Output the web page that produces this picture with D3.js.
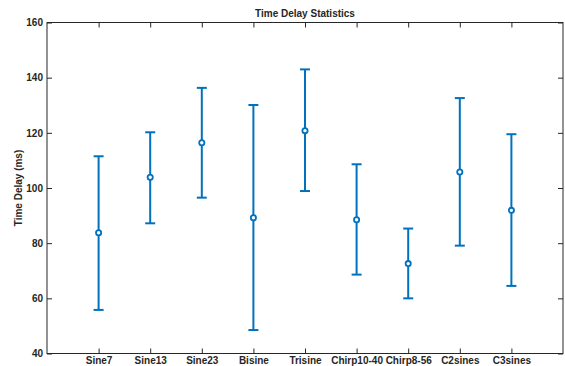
<!DOCTYPE html>
<html>
<head>
<meta charset="utf-8">
<script src="https://cdn.jsdelivr.net/npm/d3@7"></script>
<style>
  body { margin: 0; background: #fff; }
  text { font-family: "Liberation Sans", Arial, sans-serif; font-weight: bold; fill: #262626; }
</style>
</head>
<body>
<svg id="chart" width="565" height="366"></svg>
<script>
// Signal names and their delay stats (ms)
const signals = ["Sine7", "Sine13", "Sine23", "Bisine", "Trisine", "Chirp10-40", "Chirp8-56", "C2sines", "C3sines"];
const means = [83.8, 103.9, 116.4, 89.2, 120.8, 88.5, 72.6, 105.8, 91.9];
const lower = [55.8, 87.2, 96.5, 48.5, 98.9, 68.6, 60.0, 79.1, 64.5];
const upper = [111.5, 120.2, 136.3, 130.1, 143.0, 108.6, 85.3, 132.6, 119.5];
const yTicks = [40, 60, 80, 100, 120, 140, 160];

const svg = d3.select("#chart");
const plotL = 47, plotR = 563, plotT = 22.5, plotB = 353.5;
const blue = "#0072BD", axisCol = "#262626";

const x = d3.scaleLinear().domain([0, signals.length + 1]).range([plotL, plotR]);
const y = d3.scaleLinear().domain([40, 160]).range([plotB, plotT]);

const rows = signals.map((s, i) => ({ name: s, pos: i + 1, m: means[i], lo: lower[i], hi: upper[i] }));

// box outline
svg.append("rect")
    .attr("x", plotL).attr("y", plotT)
    .attr("width", plotR - plotL).attr("height", plotB - plotT)
    .attr("fill", "none").attr("stroke", axisCol).attr("stroke-width", 1);

// axes with inward ticks
const xAxis = d3.axisBottom(x).tickValues(rows.map(d => d.pos))
    .tickFormat((d, i) => signals[i]).tickSizeInner(-5).tickSizeOuter(0).tickPadding(3.5);
const yAxis = d3.axisLeft(y).tickValues(yTicks).tickSizeInner(-5).tickSizeOuter(0).tickPadding(4);

const gx = svg.append("g").attr("transform", `translate(0,${plotB})`).call(xAxis);
const gy = svg.append("g").attr("transform", `translate(${plotL},0)`).call(yAxis);
// mirrored ticks on top and right
const gxt = svg.append("g").attr("transform", `translate(0,${plotT})`)
    .call(d3.axisTop(x).tickValues(rows.map(d => d.pos)).tickFormat("").tickSizeInner(-5).tickSizeOuter(0));
const gyr = svg.append("g").attr("transform", `translate(${plotR},0)`)
    .call(d3.axisRight(y).tickValues(yTicks).tickFormat("").tickSizeInner(-5).tickSizeOuter(0));

[gx, gy, gxt, gyr].forEach(g => {
    g.select(".domain").remove();
    g.selectAll("line").attr("stroke", axisCol);
    g.selectAll("text").attr("font-size", 10).attr("fill", axisCol)
        .style("font-family", "'Liberation Sans', Arial, sans-serif").style("font-weight", "bold");
});

// error bars
const bars = svg.append("g").selectAll("g").data(rows).enter().append("g");
bars.append("line")
    .attr("x1", d => x(d.pos)).attr("x2", d => x(d.pos))
    .attr("y1", d => y(d.lo)).attr("y2", d => y(d.hi))
    .attr("stroke", blue).attr("stroke-width", 2);
["lo", "hi"].forEach(k => {
    bars.append("line")
        .attr("x1", d => x(d.pos) - 5).attr("x2", d => x(d.pos) + 5)
        .attr("y1", d => y(d[k])).attr("y2", d => y(d[k]))
        .attr("stroke", blue).attr("stroke-width", 2);
});
bars.append("circle")
    .attr("cx", d => x(d.pos)).attr("cy", d => y(d.m)).attr("r", 2.6)
    .attr("fill", "#fff").attr("stroke", blue).attr("stroke-width", 1.8);

// title and label
svg.append("text").attr("x", (plotL + plotR) / 2).attr("y", 17)
    .attr("text-anchor", "middle").attr("font-size", 10).text("Time Delay Statistics");
svg.append("text")
    .attr("transform", `translate(21.5,${(plotT + plotB) / 2}) rotate(-90)`)
    .attr("text-anchor", "middle").attr("font-size", 10).text("Time Delay (ms)");
</script>
</body>
</html>
